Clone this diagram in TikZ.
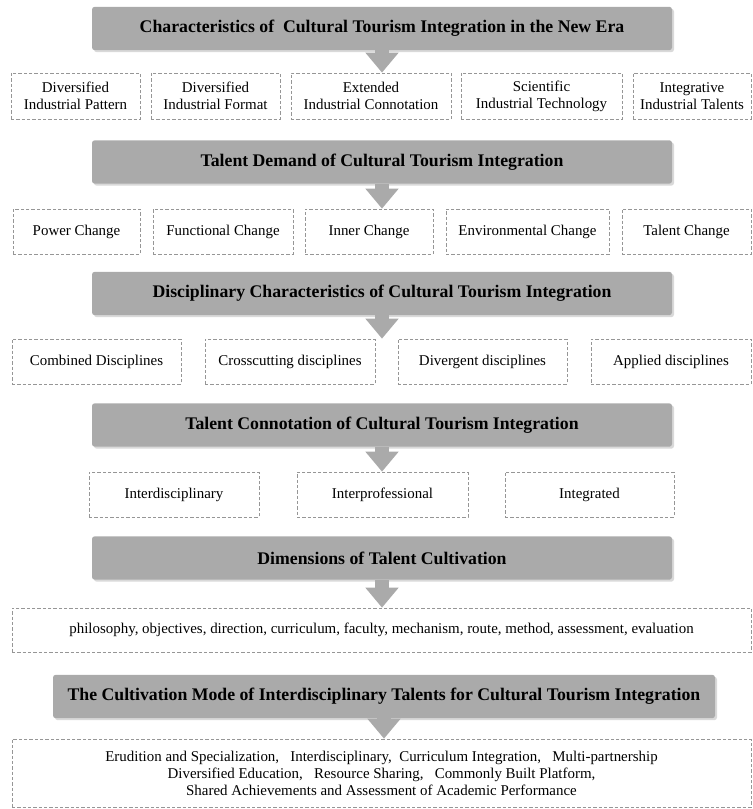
\documentclass[tikz,border=0pt]{standalone}
\usepackage{fontspec}
\setmainfont{Liberation Serif}
\usetikzlibrary{arrows.meta, shadows}
\definecolor{hdgray}{RGB}{170,170,170}
\definecolor{boxline}{RGB}{150,150,150}

\begin{document}
\begin{tikzpicture}[x=0.75pt, y=-0.75pt,
  hdbox/.style={fill=hdgray, rounded corners=2pt, inner sep=0pt, minimum height=32.5pt,
    font=\fontsize{13.3}{15}\selectfont\bfseries,
    drop shadow={shadow xshift=1.5pt, shadow yshift=-1.5pt, opacity=0.3}},
  itembox/.style={draw=boxline, dashed, dash pattern=on 2.5pt off 1.5pt, line width=0.5pt,
    align=center, inner sep=0pt, font=\fontsize{11.2}{12.8}\selectfont},
  wd/.style={minimum width=#1*0.75pt},
  ht/.style={minimum height=#1*0.75pt},
  flowarrow/.style={draw=hdgray, line width=10pt, -{Triangle[width=24pt, length=15pt]}}
]
\useasboundingbox (0,0) rectangle (752,809);

% headers
\node[hdbox, wd=580] (feat) at (382,28.5) {Characteristics of \ Cultural Tourism Integration in the New Era};
\node[hdbox, wd=580] (demand) at (382,162) {Talent Demand of Cultural Tourism Integration};
\node[hdbox, wd=580] (disc) at (382,293.5) {Disciplinary Characteristics of Cultural Tourism Integration};
\node[hdbox, wd=580] (conn) at (382,425) {Talent Connotation of Cultural Tourism Integration};
\node[hdbox, wd=580] (dim) at (382,558) {Dimensions of Talent Cultivation};
\node[hdbox, wd=662] (mode) at (384,696.5) {The Cultivation Mode of Interdisciplinary Talents for Cultural Tourism Integration};

% row 1
\path[every node/.style={itembox, ht=46}]
(75.5,96) node[wd=129] (feat1) {Diversified\\Industrial Pattern}
(215.5,96) node[wd=129] (feat2) {Diversified\\Industrial Format}
(371,96) node[wd=160] (feat3) {Extended\\Industrial Connotation}
(541.5,96) node[wd=161] (feat4) {Scientific\\Industrial Technology}
(692,96) node[wd=118] (feat5) {Integrative\\Industrial Talents};

% row 2
\path[every node/.style={itembox, ht=45}]
(76.5,231.5) node[wd=127] (demand1) {Power Change}
(223,231.5) node[wd=140] (demand2) {Functional Change}
(369,231.5) node[wd=128] (demand3) {Inner Change}
(527.5,231.5) node[wd=163] (demand4) {Environmental Change}
(686.5,231.5) node[wd=129] (demand5) {Talent Change};

% row 3
\path[every node/.style={itembox, ht=45}]
(96.5,361.5) node[wd=169] (disc1) {Combined Disciplines}
(290,361.5) node[wd=170] (disc2) {Crosscutting disciplines}
(482.5,361.5) node[wd=169] (disc3) {Divergent disciplines}
(671,361.5) node[wd=160] (disc4) {Applied disciplines};

% row 4
\path[every node/.style={itembox, ht=45}]
(174,494.5) node[wd=170] (conn1) {Interdisciplinary}
(382.5,494.5) node[wd=171] (conn2) {Interprofessional}
(589.5,494.5) node[wd=169] (conn3) {Integrated};

% rows 5 and 6
\node[itembox, wd=739, ht=44] (dim1) at (381.5,630)
  {philosophy, objectives, direction, curriculum, faculty, mechanism, route, method, assessment, evaluation};
\node[itembox, wd=739, ht=68] (mode1) at (381.5,773)
  {Erudition and Specialization,\ \ \ Interdisciplinary,\ \ Curriculum Integration,\ \ \ Multi-partnership\\
   Diversified Education,\ \ \ Resource Sharing,\ \ \ Commonly Built Platform,\\
   Shared Achievements and Assessment of Academic Performance};

\coordinate (featTip) at (feat.south |- feat1.north);
\coordinate (demandTip) at (demand.south |- demand1.north);
\coordinate (discTip) at (disc.south |- disc1.north);
\coordinate (connTip) at (conn.south |- conn1.north);
\coordinate (dimTip) at (dim.south |- dim1.north);
\coordinate (modeTip) at (mode.south |- mode1.north);

\begin{scope}[flowarrow]
\draw (feat.south) -- (featTip);
\draw (demand.south) -- (demandTip);
\draw (disc.south) -- (discTip);
\draw (conn.south) -- (connTip);
\draw (dim.south) -- (dimTip);
\draw (mode.south) -- (modeTip);
\end{scope}

\end{tikzpicture}
\end{document}
